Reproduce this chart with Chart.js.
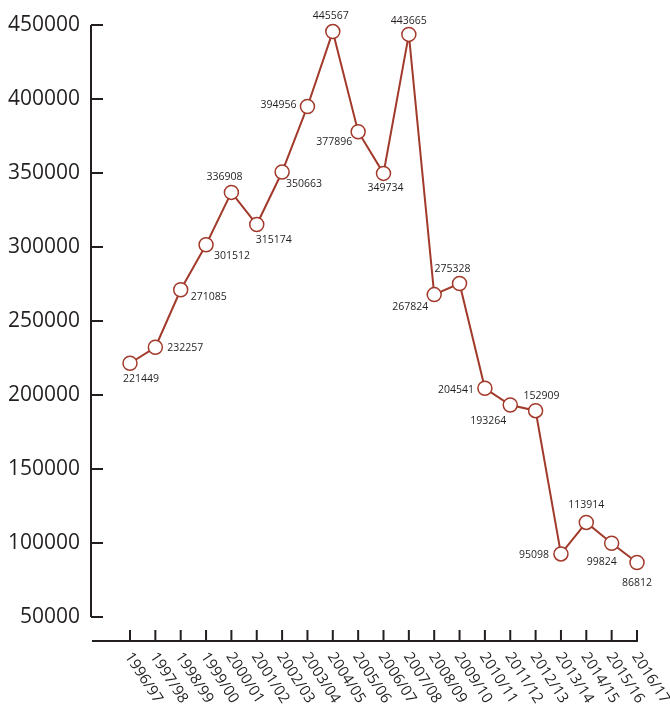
<!DOCTYPE html>
<html>
<head>
<meta charset="utf-8">
<script src="https://cdn.jsdelivr.net/npm/chart.js@4"></script>
<style>
  html, body { margin: 0; padding: 0; background: #fff; }
  #wrap { width: 670px; height: 711px; position: relative; }
</style>
</head>
<body>
<div id="wrap"><canvas id="chart"></canvas></div>
<script>
// Daten
const years = ["1996/97", "1997/98", "1998/99", "1999/00", "2000/01", "2001/02", "2002/03",
  "2003/04", "2004/05", "2005/06", "2006/07", "2007/08", "2008/09", "2009/10", "2010/11",
  "2011/12", "2012/13", "2013/14", "2014/15", "2015/16", "2016/17"]

// plotted values (as the points sit in the picture)
const values = [221449, 232257, 271085, 301512, 336908, 315174, 350663, 394956, 445567, 377896,
  349734, 443665, 267824, 275328, 204541, 193264, 189400, 92600, 113914, 99824, 86812]

// printed labels next to the points
const valueLabels = ["221449", "232257", "271085", "301512", "336908", "315174", "350663", "394956",
  "445567", "377896", "349734", "443665", "267824", "275328", "204541", "193264", "152909", "95098",
  "113914", "99824", "86812"]

const yTicks = [50000, 100000, 150000, 200000, 250000, 300000, 350000, 400000, 450000]

const lineColor = "#a23a2b"
const inkColor = "#231f20"
const fontFamily = "'Open Sans', 'Noto Sans', sans-serif"

// label offsets (center of text relative to point)
const labelOffsets = [[11, 16], [30, 1], [28, 7], [26, 11], [-7, -15], [17, 15], [22, 12],
  [-29, -1], [-2, -16], [-24, 10], [2, 15], [0, -13], [-24, 12], [-7, -14], [-29, 2],
  [-22, 16], [6, -15], [-27, 1], [0, -17], [-10, 19], [0, 20]]

const axesPlugin = {
  id: "customAxes",
  beforeDatasetsDraw(chart) {
    const ctx = chart.ctx
    const x = chart.scales.x
    const y = chart.scales.y
    ctx.save()
    ctx.strokeStyle = inkColor
    ctx.lineWidth = 2

    // y-Achse
    const yAxisX = 91
    ctx.beginPath()
    ctx.moveTo(yAxisX, y.getPixelForValue(450000))
    ctx.lineTo(yAxisX, y.getPixelForValue(50000))
    ctx.stroke()
    ctx.fillStyle = inkColor
    ctx.font = "21px " + fontFamily
    ctx.textAlign = "right"
    ctx.textBaseline = "middle"
    yTicks.forEach(t => {
      const py = y.getPixelForValue(t)
      ctx.beginPath()
      ctx.moveTo(yAxisX, py)
      ctx.lineTo(yAxisX + 12, py)
      ctx.stroke()
      ctx.fillText(String(t), 80, py)
    })

    // x-Achse
    const xAxisY = 641
    ctx.beginPath()
    ctx.moveTo(92, xAxisY)
    ctx.lineTo(x.getPixelForValue(years.length - 1) + 1, xAxisY)
    ctx.stroke()
    ctx.font = "15px " + fontFamily
    ctx.textAlign = "left"
    ctx.textBaseline = "middle"
    years.forEach((lab, i) => {
      const px = x.getPixelForValue(i)
      ctx.beginPath()
      ctx.moveTo(px, xAxisY)
      ctx.lineTo(px, xAxisY - 11)
      ctx.stroke()
      ctx.save()
      ctx.translate(px - 2, xAxisY + 13)
      ctx.rotate(57 * Math.PI / 180)
      ctx.fillText(lab, 0, 0)
      ctx.restore()
    })
    ctx.restore()
  },
  afterDatasetsDraw(chart) {
    const ctx = chart.ctx
    const meta = chart.getDatasetMeta(0)
    ctx.save()
    ctx.fillStyle = inkColor
    ctx.font = "10.5px " + fontFamily
    ctx.textAlign = "center"
    ctx.textBaseline = "middle"
    meta.data.forEach((pt, i) => {
      const off = labelOffsets[i]
      ctx.fillText(valueLabels[i], pt.x + off[0], pt.y + off[1])
    })
    ctx.restore()
  }
}

new Chart(document.getElementById("chart"), {
  type: "line",
  data: {
    labels: years,
    datasets: [{
      data: values,
      borderColor: lineColor,
      borderWidth: 2,
      pointRadius: 7,
      pointHoverRadius: 7,
      pointBackgroundColor: "#fff",
      pointBorderColor: lineColor,
      pointBorderWidth: 1.5,
      tension: 0,
      clip: false
    }]
  },
  options: {
    responsive: true,
    maintainAspectRatio: false,
    animation: false,
    layout: { padding: { left: 130, right: 33, top: 25, bottom: 94 } },
    plugins: { legend: { display: false }, tooltip: { enabled: false } },
    scales: {
      x: { display: false, offset: false },
      y: { display: false, min: 50000, max: 450000 }
    }
  },
  plugins: [axesPlugin]
})
</script>
</body>
</html>
